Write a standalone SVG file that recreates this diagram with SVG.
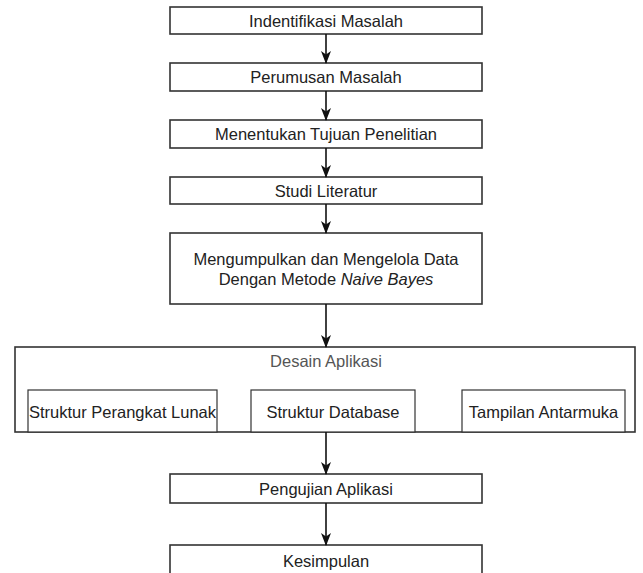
<svg xmlns="http://www.w3.org/2000/svg" width="643" height="573" viewBox="0 0 643 573">
<style>
.box{fill:#fff;stroke:#333;stroke-width:1.6}
.inner{fill:#fff;stroke:#333;stroke-width:1.2}
.t{font-family:"Liberation Sans",Arial,sans-serif;font-size:16.5px;fill:#222;text-anchor:middle}
.g{fill:#555}
.edge{stroke:#111;stroke-width:1.6;fill:none}
</style>
<defs>
<marker id="arr" markerWidth="13" markerHeight="10" refX="12" refY="5" orient="auto" markerUnits="userSpaceOnUse" viewBox="0 0 13 10">
<path d="M0,0 L3.5,5 L0,10 L13,5 Z" fill="#111"/>
</marker>
</defs>
<rect width="643" height="573" fill="#fff"/>
<g id="n1"><rect class="box" x="170" y="7" width="312" height="27"/><text class="t" x="326" y="26.5">Indentifikasi Masalah</text></g>
<g id="n2"><rect class="box" x="170" y="63" width="312" height="28"/><text class="t" x="326" y="83">Perumusan Masalah</text></g>
<g id="n3"><rect class="box" x="170" y="120" width="312" height="28"/><text class="t" x="326" y="140">Menentukan Tujuan Penelitian</text></g>
<g id="n4"><rect class="box" x="170" y="177" width="312" height="27"/><text class="t" x="326" y="196.5">Studi Literatur</text></g>
<g id="n5"><rect class="box" x="170" y="233" width="312" height="71"/><text class="t" x="326" y="265">Mengumpulkan dan Mengelola Data</text><text class="t" x="326" y="285">Dengan Metode <tspan font-style="italic">Naive Bayes</tspan></text></g>
<g id="n6"><rect class="box" x="15" y="347" width="620" height="85"/><text class="t g" x="326" y="367">Desain Aplikasi</text></g>
<g id="n7"><rect class="inner" x="28" y="390" width="189" height="42"/><text class="t" x="122.5" y="418">Struktur Perangkat Lunak</text></g>
<g id="n8"><rect class="inner" x="251" y="390" width="164" height="42"/><text class="t" x="333" y="418">Struktur Database</text></g>
<g id="n9"><rect class="inner" x="462" y="390" width="163" height="42"/><text class="t" x="543.5" y="418">Tampilan Antarmuka</text></g>
<g id="n10"><rect class="box" x="170" y="474" width="312" height="29"/><text class="t" x="326" y="495">Pengujian Aplikasi</text></g>
<g id="n11"><rect class="box" x="170" y="545" width="312" height="40"/><text class="t" x="326" y="567">Kesimpulan</text></g>
<g id="edges">
<path class="edge" d="M326,34 V63" marker-end="url(#arr)"/>
<path class="edge" d="M326,91 V120" marker-end="url(#arr)"/>
<path class="edge" d="M326,148 V177" marker-end="url(#arr)"/>
<path class="edge" d="M326,204 V233" marker-end="url(#arr)"/>
<path class="edge" d="M326,304 V347" marker-end="url(#arr)"/>
<path class="edge" d="M326,432 V474" marker-end="url(#arr)"/>
<path class="edge" d="M326,503 V545" marker-end="url(#arr)"/>
</g>
</svg>
